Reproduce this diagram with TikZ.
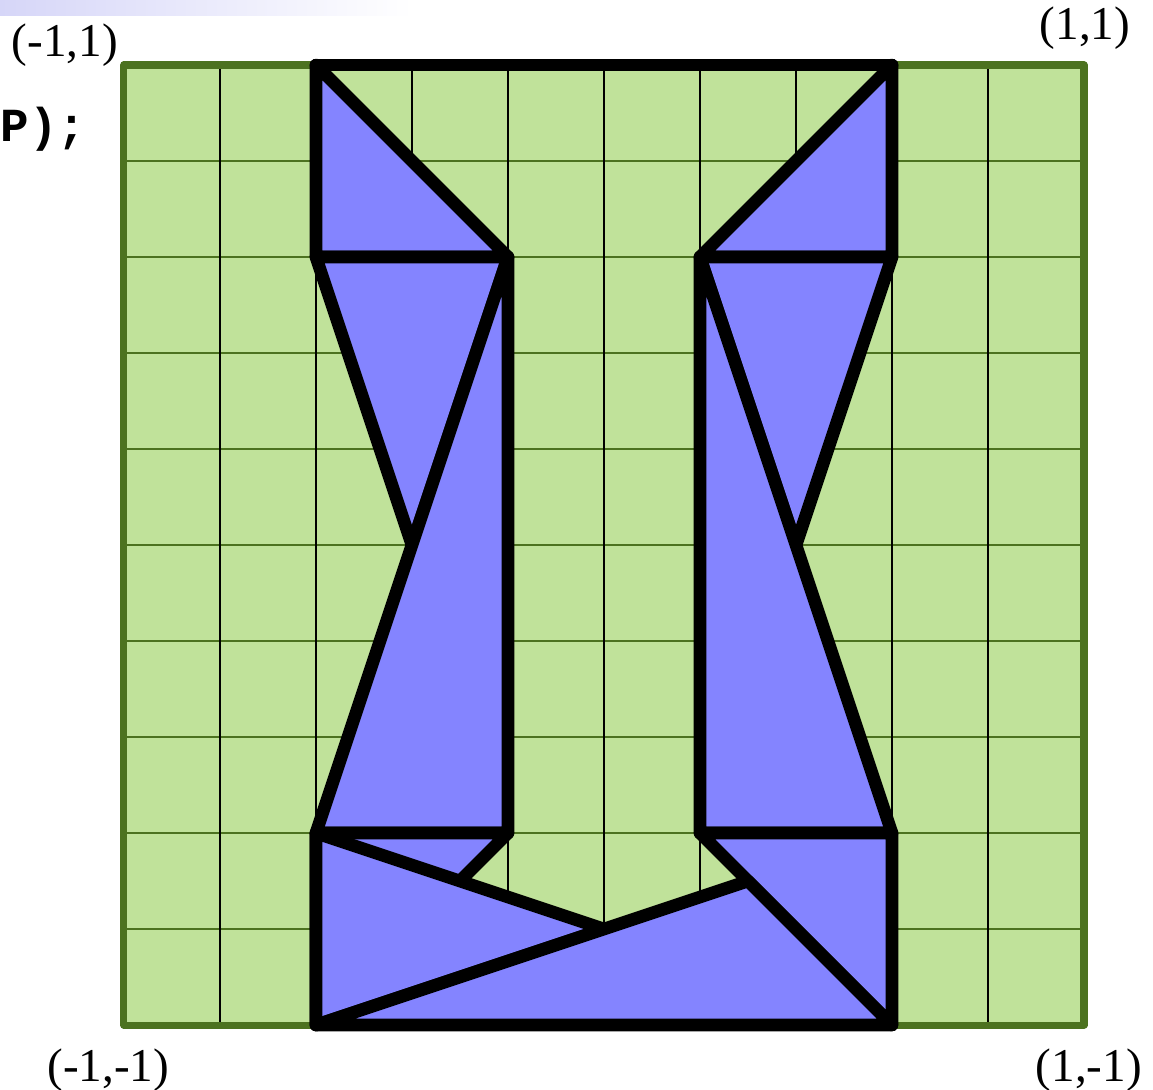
\documentclass[tikz,border=0pt]{standalone}
\usepackage{fontspec}
\setmainfont{Liberation Serif}
\setmonofont{Liberation Mono}
\usetikzlibrary{positioning}
\definecolor{fieldgreen}{RGB}{76,114,32}
\definecolor{fieldlight}{RGB}{192,226,154}
\definecolor{triblue}{RGB}{132,132,255}
\definecolor{slidelav}{RGB}{214,214,248}
\tikzset{
  tri/.style={fill=triblue, draw=black, line width=3.6pt, line join=round},
  edgeline/.style={draw=black, line width=3.6pt, line cap=round},
  gridv/.style={black, line width=0.6pt},
  gridh/.style={fieldgreen, line width=0.8pt},
  border/.style={fieldgreen, line width=2pt, line join=round},
  cornerlabel/.style={font=\fontsize{13.4}{16}\selectfont, inner sep=0pt},
  codelabel/.style={font=\ttfamily\bfseries\fontsize{13.5}{16}\selectfont,
                    inner sep=0pt, anchor=base west},
}

\begin{document}
\begin{tikzpicture}[x=4.8cm, y=4.8cm]
  \useasboundingbox (-1.2583,-1.1333) rectangle (1.14375,1.1354);
  % slide strip and code fragment
  \shade[left color=slidelav, right color=white]
    (-1.2583,1.1021) rectangle (-0.40,1.1354);
  \node[codelabel] (code) at (-1.2583,0.840) {P);};
  % field with grid
  \fill[fieldlight] (-1,-1) rectangle (1,1);
  \foreach \i in {1,...,9}
    \draw[gridh] (-1,{\i*0.2-1}) -- (1,{\i*0.2-1});
  \foreach \i in {1,...,9}
    \draw[gridv] ({\i*0.2-1},-1) -- ({\i*0.2-1},1);
  \draw[border] (-1,-1) rectangle (1,1);
  % corner labels
  \node[cornerlabel] (nw) at (-1.123,1.042) {(-1,1)};
  \node[cornerlabel] (ne) at (1.002,1.077) {(1,1)};
  \node[cornerlabel] (sw) at (-1.033,-1.094) {(-1,-1)};
  \node[cornerlabel] (se) at (1.010,-1.094) {(1,-1)};
  % polygon vertices
  \coordinate (tl) at (-0.6,1);
  \coordinate (tr) at (0.6,1);
  \coordinate (lu) at (-0.6,0.6);
  \coordinate (li) at (-0.2,0.6);
  \coordinate (ri) at (0.2,0.6);
  \coordinate (ru) at (0.6,0.6);
  \coordinate (lw) at (-0.4,0);
  \coordinate (rw) at (0.4,0);
  \coordinate (ld) at (-0.6,-0.6);
  \coordinate (lj) at (-0.2,-0.6);
  \coordinate (rj) at (0.2,-0.6);
  \coordinate (rd) at (0.6,-0.6);
  \coordinate (bl) at (-0.6,-1);
  \coordinate (br) at (0.6,-1);
  \coordinate (bm) at (0,-0.8);
  \coordinate (bk) at (0.3,-0.7);
  % triangles
  \draw[tri] (tl) -- (lu) -- (li) -- cycle;
  \draw[tri] (tr) -- (ri) -- (ru) -- cycle;
  \draw[tri] (lu) -- (li) -- (lw) -- cycle;
  \draw[tri] (li) -- (lj) -- (ld) -- cycle;
  \draw[tri] (ri) -- (ru) -- (rw) -- cycle;
  \draw[tri] (ri) -- (rj) -- (rd) -- cycle;
  \draw[tri] (ld) -- (lj) -- (bl) -- cycle;
  \draw[tri] (rj) -- (rd) -- (br) -- cycle;
  \draw[tri] (ld) -- (bm) -- (bl) -- cycle;
  \draw[tri] (bl) -- (bk) -- (br) -- cycle;
  \draw[edgeline] (tl) -- (tr);
\end{tikzpicture}
\end{document}
